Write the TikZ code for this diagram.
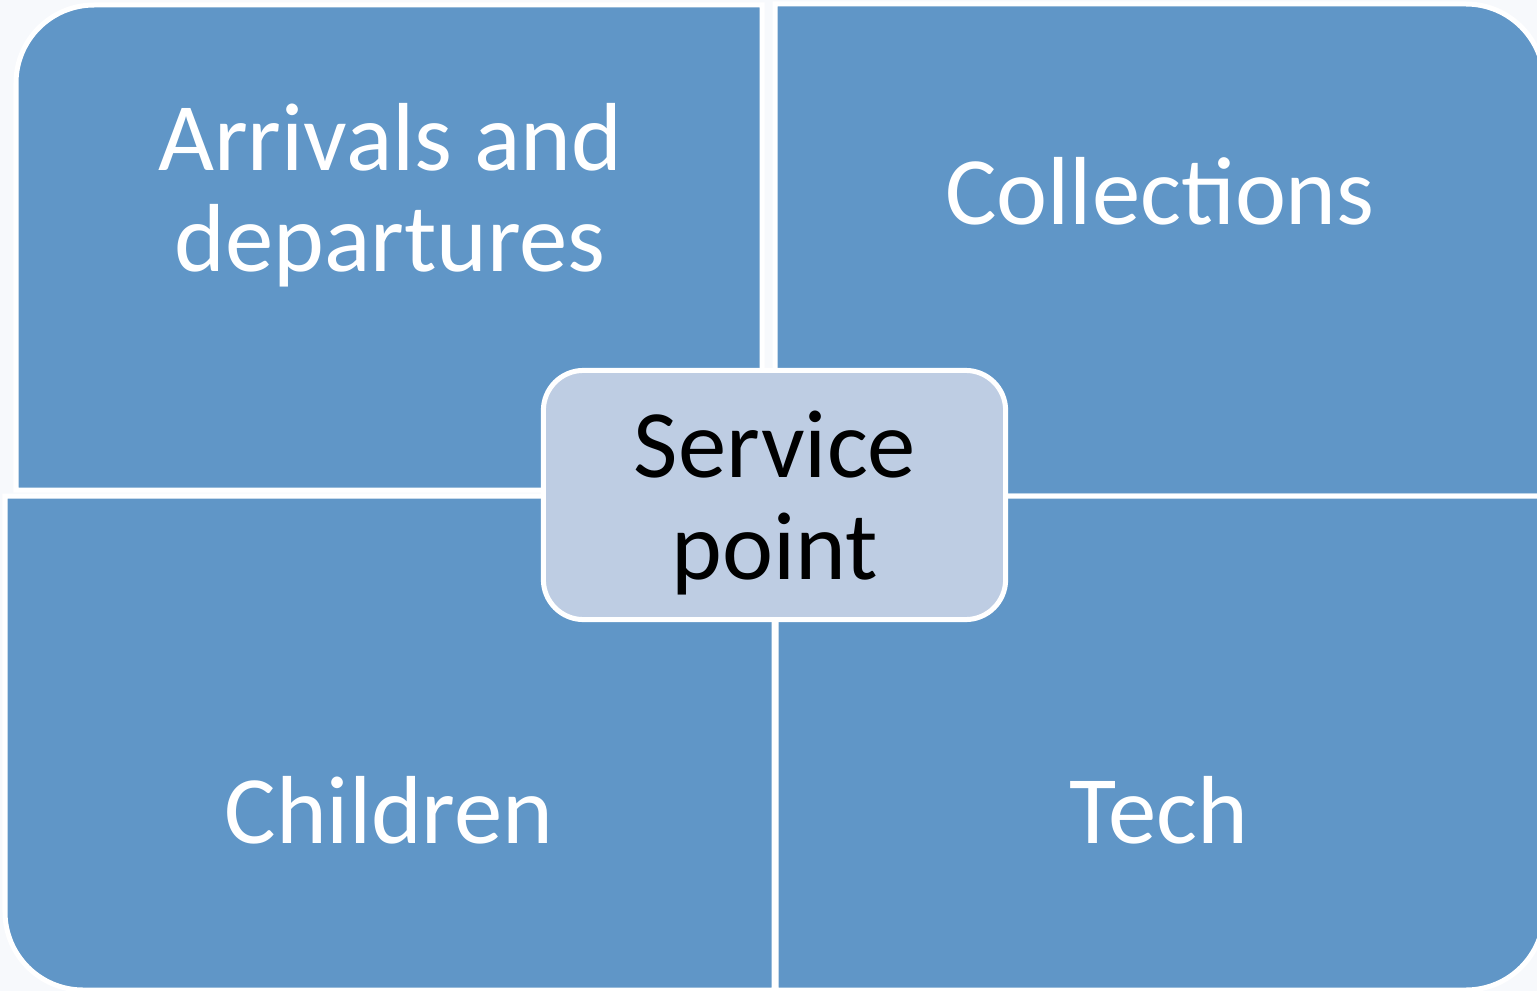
\documentclass[tikz,border=0pt]{standalone}
\usepackage{fontspec}
\setmainfont{Carlito}
\definecolor{blockblue}{RGB}{96,150,199}
\definecolor{hubblue}{RGB}{190,205,227}
\definecolor{paper}{RGB}{247,249,252}

\begin{document}
\begin{tikzpicture}[x=0.01cm,y=-0.01cm,
  quad/.style={fill=blockblue,draw=white,line width=0.05cm},
  hub/.style={quad,fill=hubblue,rounded corners=0.4cm,minimum width=4.62cm,minimum height=2.49cm},
  lbl/.style={text=white,align=center,font=\fontsize{27.5}{28.6}\selectfont}]
\fill[paper] (0,0) rectangle (1537,991);
\useasboundingbox (0,0) rectangle (1537,991);
% four blocks, outer corner rounded
\filldraw[quad] (762,490) -- (16,490) [rounded corners=0.78cm] -- (16,5) [sharp corners] -- (762,5) -- cycle;
\filldraw[quad] (775,496) -- (775,4) [rounded corners=0.78cm] -- (1544,4) [sharp corners] -- (1544,496) -- cycle;
\filldraw[quad] (774,496) -- (5,496) [rounded corners=0.78cm] -- (5,990) [sharp corners] -- (774,990) -- cycle;
\filldraw[quad] (776,496) -- (776,990) [rounded corners=0.78cm] -- (1544,990) [sharp corners] -- (1544,496) -- cycle;
\node[lbl] (arr) at (390,195) {Arrivals and\\departures};
\node[lbl,anchor=base] (col) at (1160,225) {Collections};
\node[lbl,anchor=base] (chi) at (389,843) {Children};
\node[lbl,anchor=base] (tec) at (1159,843) {Tech};
% centre box
\node[hub] (hub) at (774.5,495) {};
\node[lbl,text=black,font=\fontsize{27.5}{29.2}\selectfont] (svc) at (775,503) {Service\\point};
\end{tikzpicture}
\end{document}
